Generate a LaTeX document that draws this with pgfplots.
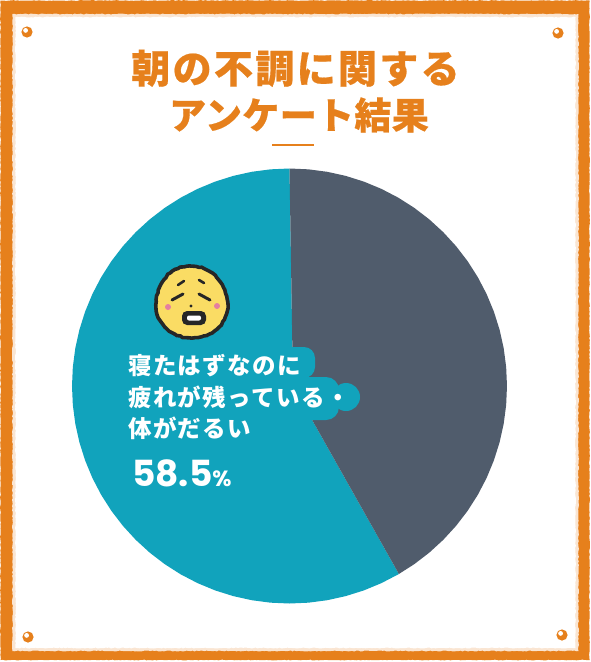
\documentclass[border=0pt]{standalone}
\usepackage{fontspec}
\usepackage{pgfplots}
\pgfplotsset{compat=1.18}
\usepgfplotslibrary{polar}
\usetikzlibrary{decorations.pathmorphing}
\newfontfamily\jpA[LetterSpace=6,BoldFeatures={FakeBold=0.5}]{Noto Sans CJK JP}
\newfontfamily\jpB[LetterSpace=1,BoldFeatures={FakeBold=0.5}]{Noto Sans CJK JP}
\newfontfamily\jpC[LetterSpace=6]{Noto Sans CJK JP}
\newfontfamily\numf{Poppins}
\definecolor{frameor}{HTML}{E6801C}
\definecolor{teal1}{HTML}{11A3BC}
\definecolor{gray1}{HTML}{505C6C}
\definecolor{faceY}{HTML}{FADC64}
\definecolor{cheek}{HTML}{E57FA0}
\begin{document}
\begin{tikzpicture}
\path[use as bounding box] (0pt,0pt) rectangle (590pt,-662pt);
\begin{scope}[x=1pt,y=-1pt]
% frame
\fill[frameor,decorate,decoration={random steps,segment length=2pt,amplitude=.35pt}]
  (0.5,0.5) rectangle (589.5,660);
\fill[frameor!20,decorate,decoration={random steps,segment length=2pt,amplitude=.5pt}]
  (12.5,14) rectangle (578.5,651);
\fill[white,decorate,decoration={random steps,segment length=2pt,amplitude=.5pt}]
  (15.5,17) rectangle (575.5,648);
% corner dots
\foreach \p/\q in {27/32,558/33,28/637,562/635}{
  \fill[frameor] (\p,\q) circle (5.6);
  \fill[white] (\p-1.4,\q-1.6) circle (2.4);
}
\end{scope}
\begin{polaraxis}[
  at={(289.5pt,-386pt)},anchor=center,
  scale only axis,width=435pt,height=435pt,
  ymin=0,ymax=1,xmin=0,xmax=360,hide axis,clip=false]
% teal slice
\addplot[fill=teal1,draw=none] coordinates {
(0,0.016)(90,1)(95,1)(100,1)(105,1)(110,1)(115,1)(120,1)(125,1)(130,1)(135,1)(140,1)(145,1)(150,1)(155,1)(160,1)(165,1)(170,1)(175,1)(180,1)(185,1)(190,1)(195,1)(200,1)(205,1)(210,1)(215,1)(220,1)(225,1)(230,1)(235,1)(240,1)(245,1)(250,1)(255,1)(260,1)(265,1)(270,1)(275,1)(280,1)(285,1)(290,1)(295,1)(300,1)(300.2,1)} --cycle;
% gray slice
\addplot[fill=gray1,draw=none] coordinates {
(0,0.016)(90,1)(85,1)(80,1)(75,1)(70,1)(65,1)(60,1)(55,1)(50,1)(45,1)(40,1)(35,1)(30,1)(25,1)(20,1)(15,1)(10,1)(5,1)(0,1)(-5,1)(-10,1)(-15,1)(-20,1)(-25,1)(-30,1)(-35,1)(-40,1)(-45,1)(-50,1)(-55,1)(-59.8,1)} --cycle;
\end{polaraxis}
\begin{scope}[x=1pt,y=-1pt]
% label backing blobs
\fill[teal1,rounded corners=11pt] (270,347) rectangle (315,378);
\fill[teal1,rounded corners=13pt] (280,377) rectangle (339,420);
\fill[teal1] (346,397) circle (14);
% title
\node[anchor=base,text=frameor,inner sep=0,font=\jpA\bfseries\fontsize{39}{39}\selectfont] at (295.5,83) {朝の不調に関する};
\node[anchor=base,text=frameor,inner sep=0,font=\jpB\bfseries\fontsize{37}{37}\selectfont] at (299,129) {アンケート結果};
\fill[frameor] (272,144) rectangle (314,146);
% face
\fill[faceY,draw=black!85,line width=3.6pt,decorate,decoration={random steps,segment length=3pt,amplitude=.6pt}]
  (190,266) .. controls (212,266) and (226,283) .. (228,305) .. controls (228,325) and (210,338) .. (192,338)
  .. controls (172,338) and (155,323) .. (156,305) .. controls (157,283) and (170,266) .. (190,266) -- cycle;
\fill[cheek] (168,307) circle (3);
\fill[cheek] (217,306) circle (3);
\draw[black!85,line width=3pt,line cap=round] (172,300) -- (183,294);
\draw[black!85,line width=3pt,line cap=round] (199,294) -- (210,300);
\draw[black!85,line width=2.6pt,line cap=round] (178,285) -- (184,281);
\draw[black!85,line width=2.6pt,line cap=round] (199,280) -- (204,283);
\fill[black!85] (191,306) circle (1.7);
\fill[black!85,rounded corners=5pt] (182,311) rectangle (206,325);
\fill[white,rounded corners=2pt] (187,315.5) rectangle (201,320.5);
% label
\node[anchor=base west,text=white,inner sep=0,font=\jpC\bfseries\fontsize{23.5}{23.5}\selectfont] at (128,374) {寝たはずなのに};
\node[anchor=base west,text=white,inner sep=0,font=\jpC\bfseries\fontsize{23.5}{23.5}\selectfont] at (128,406) {疲れが残っている・};
\node[anchor=base west,text=white,inner sep=0,font=\jpC\bfseries\fontsize{23.5}{23.5}\selectfont] at (128,437) {体がだるい};
\node[anchor=base west,text=white,inner sep=0,font=\numf\bfseries\fontsize{36}{36}\selectfont] at (132,486) {58.5{\fontsize{22}{22}\selectfont\%}};
\end{scope}
\end{tikzpicture}
\end{document}
